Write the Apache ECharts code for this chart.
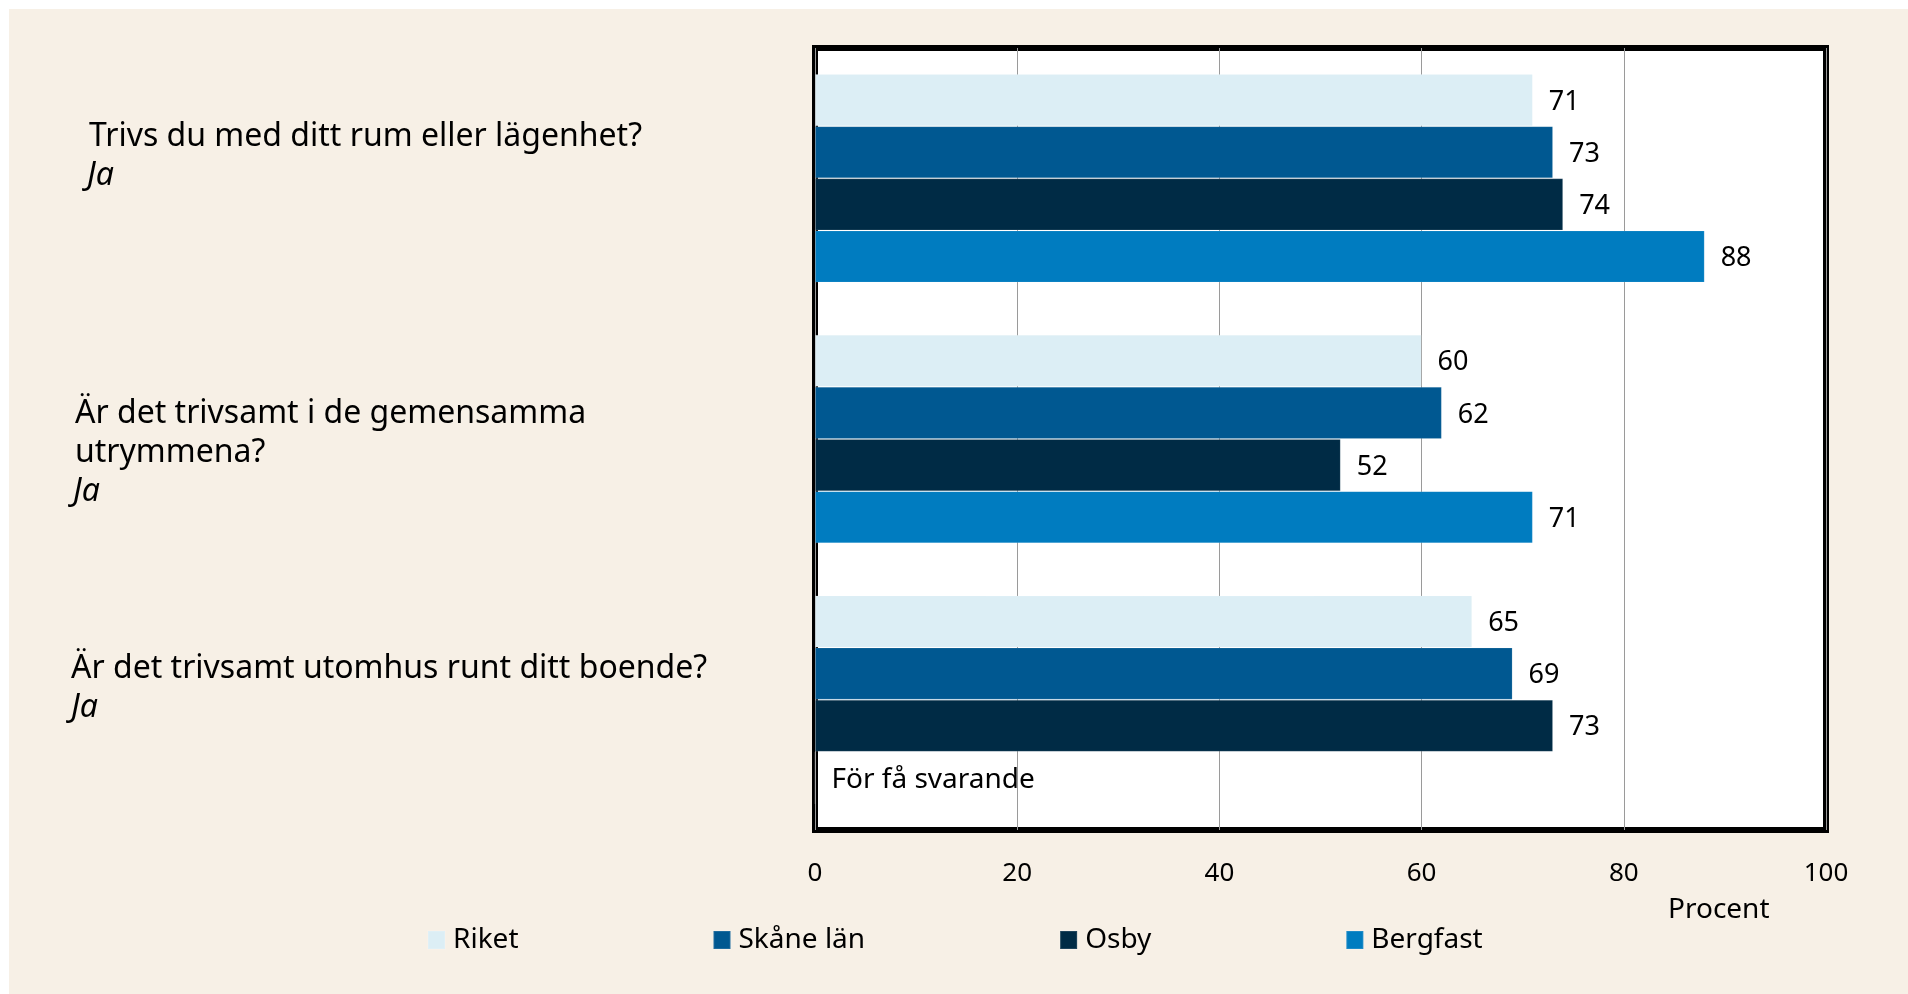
<!DOCTYPE html>
<html>
<head>
<meta charset="utf-8">
<script src="https://cdn.jsdelivr.net/npm/echarts@6/dist/echarts.min.js"></script>
<style>
  html, body { margin: 0; padding: 0; background: #fff; }
  #chart { width: 1908px; height: 994px; }
</style>
</head>
<body>
<div id="chart"></div>
<script>
// questions (y categories)
const categories = [
  'Trivs du med ditt rum eller lägenhet?',
  'Är det trivsamt i de gemensamma\nutrymmena?',
  'Är det trivsamt utomhus runt ditt boende?'
];
const answerLabel = 'Ja';
const seriesNames = ['Riket', 'Skåne län', 'Osby', 'Bergfast'];
const riket = [71, 60, 65];
const skane = [73, 62, 69];
const osby = [74, 52, 73];
const bergfast = [88, 71, null]; // null = för få svarande
const missingText = 'För få svarande';
const xTicks = [0, 20, 40, 60, 80, 100];
const colors = ['#DCEEF5', '#005891', '#002B45', '#007CC0'];

const font = 'Noto Sans';
const chart = echarts.init(document.getElementById('chart'));

function makeSeries(name, values, color) {
  return {
    name: name,
    type: 'bar',
    barGap: '0%',
    barCategoryGap: '20%',
    itemStyle: { color: color, borderColor: 'rgba(255,255,255,0.12)', borderWidth: 1 },
    label: {
      show: true,
      position: 'right',
      distance: 16,
      offset: [0, 2],
      color: '#000',
      fontFamily: font,
      fontSize: 27
    },
    data: values.map(function (v) {
      if (v === null) {
        return {
          value: 0,
          label: { formatter: missingText, fontSize: 28 }
        };
      }
      return v;
    })
  };
}

const labelStyle = { fontFamily: font, fontSize: 32, color: '#000', lineHeight: 39 };
const rich = {
  q0: Object.assign({}, labelStyle, { padding: [0, 0, 0, 18] }),
  j0: Object.assign({}, labelStyle, { fontStyle: 'italic', padding: [0, 0, 0, 16] }),
  q1: Object.assign({}, labelStyle, { padding: [0, 0, 0, 4] }),
  j1: Object.assign({}, labelStyle, { fontStyle: 'italic', padding: [0, 0, 0, 2] }),
  q2: Object.assign({}, labelStyle),
  j2: Object.assign({}, labelStyle, { fontStyle: 'italic' }),
  sBottom0: { lineHeight: 43, fontSize: 10 },
  sTop1: { lineHeight: 28, fontSize: 10 },
  sBottom2: { lineHeight: 22, fontSize: 10 }
};

const option = {
  backgroundColor: '#fff',
  animation: false,
  textStyle: { fontFamily: font },
  graphic: [
    {
      type: 'rect',
      z: -10,
      shape: { x: 9, y: 9, width: 1899, height: 985 },
      style: { fill: '#F7F0E6' }
    },
    {
      type: 'text',
      left: 1668,
      top: 896,
      style: { text: 'Procent', fontFamily: font, fontSize: 28, fill: '#000' }
    }
  ],
  legend: {
    data: seriesNames,
    left: 422,
    top: 920,
    itemWidth: 17,
    itemHeight: 18,
    itemGap: 194,
    icon: 'rect',
    textStyle: {
      fontFamily: font,
      fontSize: 28,
      color: '#000',
      lineHeight: 30,
      padding: [0, 0, 0, 3]
    }
  },
  grid: {
    left: 815,
    right: 82,
    top: 48,
    bottom: 164,
    show: true,
    backgroundColor: '#fff',
    borderColor: '#000',
    borderWidth: 6
  },
  xAxis: {
    type: 'value',
    min: xTicks[0],
    max: xTicks[xTicks.length - 1],
    interval: 20,
    axisLine: { show: false },
    axisTick: { show: false },
    splitLine: { lineStyle: { color: '#9a9a9a', width: 1 } },
    axisLabel: {
      margin: 31,
      color: '#000',
      fontFamily: font,
      fontSize: 26
    }
  },
  yAxis: {
    type: 'category',
    inverse: true,
    data: categories,
    axisLine: { show: false },
    axisTick: { show: false },
    axisLabel: {
      interval: 0,
      align: 'left',
      margin: 744,
      formatter: function (value, index) {
        const q = '{q' + index + '|' + value.split('\n').join('}\n{q' + index + '|') + '}';
        const j = '{j' + index + '|' + answerLabel + '}';
        if (index === 0) return q + '\n' + j + '\n{sBottom0| }';
        if (index === 1) return '{sTop1| }\n' + q + '\n' + j;
        return q + '\n' + j + '\n{sBottom2| }';
      },
      rich: rich
    }
  },
  series: [
    makeSeries(seriesNames[0], riket, colors[0]),
    makeSeries(seriesNames[1], skane, colors[1]),
    makeSeries(seriesNames[2], osby, colors[2]),
    makeSeries(seriesNames[3], bergfast, colors[3])
  ]
};

chart.setOption(option);
</script>
</body>
</html>
